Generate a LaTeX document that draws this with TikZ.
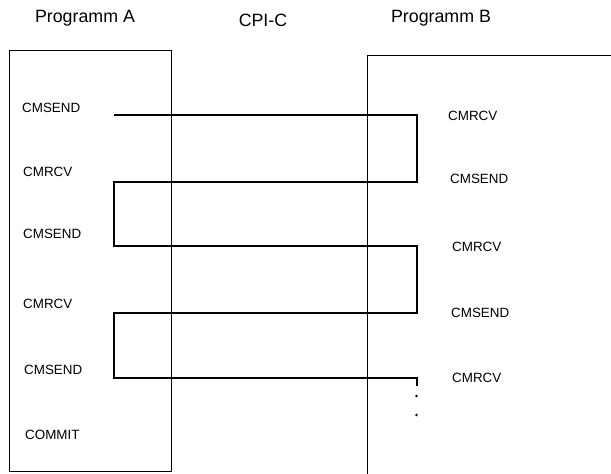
\documentclass[tikz,border=0pt]{standalone}
\usepackage{fontspec}
\setmainfont{Liberation Sans}
\begin{document}
\begin{tikzpicture}[x=1pt,y=-1pt,
  title/.style={font=\fontsize{17.8}{19}\selectfont, inner sep=0pt},
  call/.style={font=\fontsize{13.4}{15}\selectfont, inner sep=0pt, anchor=west},
  frame/.style={line width=0.8pt},
  flow/.style={line width=1.8pt, line join=miter}]
\useasboundingbox (0,0) rectangle (611,474);

% headings
\node[title] (ta) at (85,18) {Programm A};
\node[title] (tc) at (263,20) {CPI-C};
\node[title] (tb) at (441,18) {Programm B};

% program frames
\node[frame, draw, minimum width=162pt, minimum height=421pt, inner sep=0pt] (pa) at (90,260.5) {};
\draw[frame] (367,476) -- (367,55) -- (613,55);

% calls of program A
\node[call] (a1) at (22,108) {CMSEND};
\node[call] (a2) at (23,172) {CMRCV};
\node[call] (a3) at (23,234) {CMSEND};
\node[call] (a4) at (23,304) {CMRCV};
\node[call] (a5) at (24,370) {CMSEND};
\node[call] (a6) at (25,435) {COMMIT};

% calls of program B
\node[call] (b1) at (448,116) {CMRCV};
\node[call] (b2) at (450,179) {CMSEND};
\node[call] (b3) at (452,247) {CMRCV};
\node[call] (b4) at (451,313) {CMSEND};
\node[call] (b5) at (452,378) {CMRCV};

% turning points of the conversation
\coordinate (s1) at (114,115);
\coordinate (r1) at (417,115);
\coordinate (r2) at (417,182);
\coordinate (l2) at (114,182);
\coordinate (l3) at (114,246);
\coordinate (r3) at (417,246);
\coordinate (r4) at (417,313);
\coordinate (l4) at (114,313);
\coordinate (l5) at (114,378);
\coordinate (r5) at (417,378);
\coordinate (e5) at (417,386);

\draw[flow] (s1) -- (r1) -- (r2) -- (l2) -- (l3) -- (r3) -- (r4) -- (l4) -- (l5) -- (r5) -- (e5);

% continuation dots
\fill (416.5,396) circle (1.3pt);
\fill (416.5,415) circle (1.3pt);
\end{tikzpicture}
\end{document}
